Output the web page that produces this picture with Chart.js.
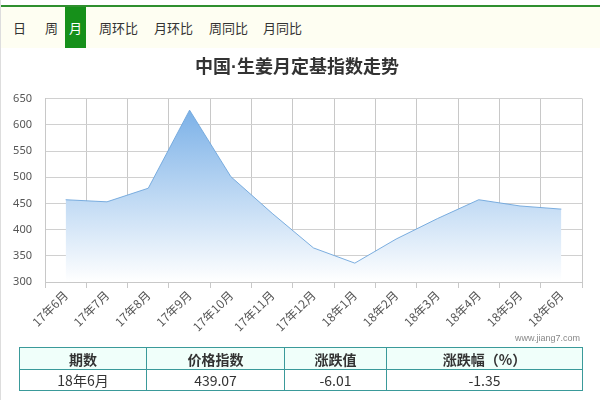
<!DOCTYPE html>
<html><head><meta charset="utf-8">
<script src="https://cdn.jsdelivr.net/npm/chart.js@4"></script>
<style>
html,body{margin:0;padding:0;background:#fff;width:600px;height:400px;overflow:hidden;font-family:"Microsoft YaHei","Noto Sans CJK SC",sans-serif;}
#page{position:absolute;left:0;top:0;width:600px;height:400px;border-left:1px solid #ddd;box-sizing:border-box;}
#tabs{position:absolute;left:0;top:0;width:600px;height:48px;background:#fefef2;border-top:5px solid #fff;box-sizing:border-box;}
#tabs .line{position:absolute;left:0;top:0;width:600px;height:2px;background:#2f8f2f;}
#tabs span{position:absolute;top:2px;height:41px;line-height:41px;font-size:13px;color:#333;}
#tabs span.on{background:#16901a;color:#fff;text-align:center;width:21px;}
#wrap{position:absolute;left:0;top:48px;width:600px;height:290px;}
#wm{position:absolute;right:20px;top:333px;font-size:9px;color:#888;font-family:"Liberation Sans",sans-serif;}
table{position:absolute;left:18px;top:347px;width:564px;border-collapse:collapse;font-size:14px;color:#333;}
td{border:1px solid #3a9a9a;text-align:center;height:20px;padding:0;}
tr.h td{background:#f0fffa;font-weight:bold;height:21px;}
</style></head>
<body><div id="page">
<div id="tabs"><div class="line"></div>
<span style="left:12px">日</span>
<span style="left:44px">周</span>
<span class="on" style="left:64px">月</span>
<span style="left:98px">周环比</span>
<span style="left:153px">月环比</span>
<span style="left:208px">周同比</span>
<span style="left:262px">月同比</span>
</div>
<div id="wrap"><canvas id="c" width="600" height="290"></canvas></div>
<div id="wm">www.jiang7.com</div>
<table>
<tr class="h"><td style="width:126px">期数</td><td style="width:137px">价格指数</td><td style="width:101px">涨跌值</td><td>涨跌幅（%）</td></tr>
<tr><td>18年6月</td><td>439.07</td><td>-6.01</td><td>-1.35</td></tr>
</table>
</div>
<script>
const categories = ["17年6月","17年7月","17年8月","17年9月","17年10月","17年11月","17年12月","18年1月","18年2月","18年3月","18年4月","18年5月","18年6月"];
const indexValues = [457, 453, 479, 628, 501, 431, 365, 336, 382, 421, 457, 445.08, 439.07];
const yTicks = [300, 350, 400, 450, 500, 550, 600, 650];

const cjk = '"Liberation Sans","Microsoft YaHei","Noto Sans CJK SC",sans-serif';
new Chart(document.getElementById('c'), {
  type: 'line',
  data: {
    labels: categories,
    datasets: [{
      data: indexValues,
      borderColor: 'rgba(110,165,220,0.9)',
      borderWidth: 1,
      pointRadius: 0,
      tension: 0,
      fill: 'start',
      backgroundColor: (ctx) => {
        const ca = ctx.chart.chartArea;
        if (!ca) return 'rgba(124,181,236,0.5)';
        const g = ctx.chart.ctx.createLinearGradient(0, ca.top, 0, ca.bottom);
        g.addColorStop(0, 'rgba(115,172,230,1)');
        g.addColorStop(1, 'rgba(255,255,255,1)');
        return g;
      }
    }]
  },
  options: {
    responsive: false,
    animation: false,
    layout: { padding: { left: 11, right: 19, top: 0, bottom: 0 } },
    plugins: {
      legend: { display: false },
      tooltip: { enabled: false },
      title: {
        display: true,
        text: '中国·生姜月定基指数走势',
        color: '#333',
        font: { size: 18, weight: 'bold', family: cjk },
        padding: { top: 9, bottom: 20 }
      }
    },
    scales: {
      x: {
        offset: true,
        grid: { color: '#c8c8c8', offset: true, tickLength: 6, drawTicks: true },
        border: { color: '#c8c8c8' },
        afterFit: (axis) => { axis.height = 56; axis.paddingLeft = 0; axis.paddingRight = 0; },
        ticks: { color: '#555', font: { size: 12, family: '"Noto Sans CJK SC",sans-serif' }, minRotation: 45, maxRotation: 45, padding: 0 }
      },
      y: {
        min: yTicks[0],
        max: yTicks[yTicks.length - 1],
        afterBuildTicks: (axis) => { axis.ticks = yTicks.map(v => ({ value: v })); },
        afterFit: (axis) => { axis.width = 33; },
        grid: { color: '#d0d0d0', drawTicks: false },
        border: { color: '#c8c8c8' },
        ticks: { color: '#555', font: { size: 11, family: '"Noto Sans",sans-serif' }, padding: 13 }
      }
    }
  }
});
</script>
</body></html>
